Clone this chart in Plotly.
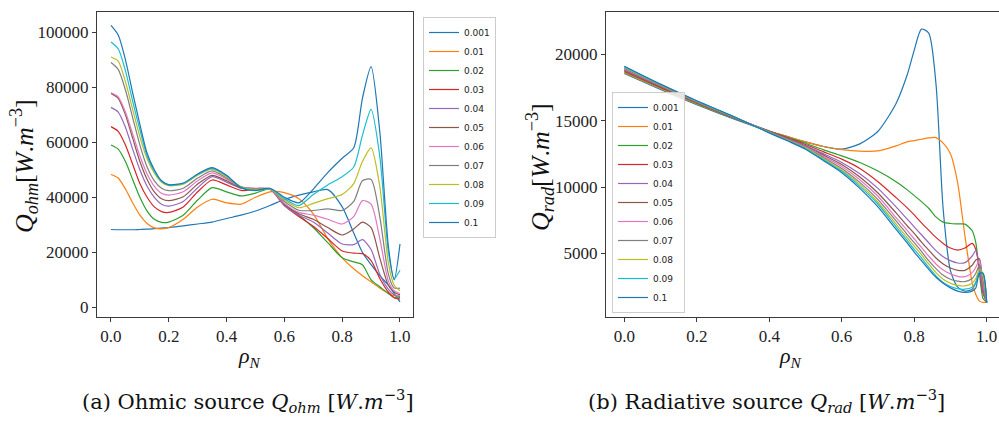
import plotly.graph_objects as go

# ---------------- data ----------------
labels = ["0.001", "0.01", "0.02", "0.03", "0.04", "0.05", "0.06", "0.07", "0.08", "0.09", "0.1"]
colors = ["#1f77b4", "#ff7f0e", "#2ca02c", "#d62728", "#9467bd", "#8c564b",
          "#e377c2", "#7f7f7f", "#bcbd22", "#17becf", "#1f77b4"]

rho_ohm = [0, 0.025, 0.05, 0.075, 0.1, 0.125, 0.15, 0.175, 0.2, 0.25, 0.3, 0.35, 0.4, 0.45,
           0.5, 0.55, 0.6, 0.65, 0.7, 0.75, 0.8, 0.84, 0.87, 0.9, 0.93, 0.96, 0.98, 1.0]

q_ohm_0001 = [28300, 28200, 28200, 28200, 28300, 28400, 28600, 28800, 29000, 29600, 30300, 31000, 32300, 33500,
              35000, 37000, 39200, 40800, 42000, 42800, 36500, 27000, 20000, 15500, 11500, 8000, 5000, 2000]
q_ohm_001 = [48300, 47000, 43000, 38000, 33500, 30500, 28900, 28500, 29000, 32000, 36500, 39300, 38000, 37500,
             40000, 42000, 41700, 39500, 34000, 25000, 18000, 14000, 11500, 9300, 7000, 5000, 4200, 4000]
q_ohm_002 = [59000, 57500, 53000, 46500, 40000, 35000, 32000, 30900, 31000, 33500, 39000, 43500, 42000, 40500,
             41500, 43000, 37500, 33500, 29000, 23500, 18000, 16500, 15500, 10000, 7500, 5000, 3500, 3500]
q_ohm_003 = [65700, 64000, 59000, 52000, 45000, 40000, 36500, 34800, 34500, 36500, 42000, 46300, 44500, 42500,
             42800, 43000, 37000, 33000, 29500, 25000, 20500, 19700, 19500, 17000, 10500, 5500, 3500, 3000]
q_ohm_004 = [72700, 71000, 65500, 57500, 50000, 44000, 40000, 37500, 36800, 38500, 43500, 47500, 45500, 43300,
             43200, 43000, 37000, 33500, 31000, 27000, 23000, 22800, 24600, 21000, 12000, 6500, 4500, 4000]
q_ohm_005 = [77800, 76000, 70000, 61500, 53000, 46500, 42000, 39500, 38800, 40200, 44800, 48000, 46000, 43500,
             43200, 43000, 37500, 34000, 32000, 29000, 26300, 28500, 31000, 29000, 18000, 8000, 5500, 4500]
q_ohm_006 = [78000, 76500, 71000, 63000, 55000, 48500, 44000, 41500, 40800, 42000, 46000, 48900, 46600, 43800,
             43300, 43000, 37800, 34500, 33500, 32000, 30300, 33000, 38800, 37500, 25000, 9500, 6000, 5000]
q_ohm_007 = [89000, 86500, 79000, 69000, 59000, 51000, 46000, 43300, 42400, 43300, 47000, 49600, 47000, 43800,
             43000, 43000, 38500, 35300, 35200, 35800, 35200, 38500, 46000, 46500, 33000, 12000, 7000, 7000]
q_ohm_008 = [91000, 89500, 82000, 72000, 62000, 54000, 48800, 45500, 44200, 44800, 48000, 50200, 47500, 43800,
             42800, 43000, 39000, 36200, 37800, 39500, 41000, 45000, 53000, 58000, 44000, 16000, 8000, 6000]
q_ohm_009 = [96500, 94000, 86000, 75000, 64500, 55000, 49500, 45800, 44400, 45000, 48300, 50500, 47800, 43600,
             42400, 43100, 39500, 37000, 41000, 44500, 47500, 51000, 62500, 72000, 55000, 20000, 10500, 13500]
q_ohm_010 = [102500, 99000, 90000, 78000, 66500, 56000, 50000, 46000, 44600, 45200, 48500, 50800, 48000, 43500,
             42500, 43300, 40000, 38000, 43000, 49000, 54200, 58000, 76000, 87500, 64000, 22000, 10000, 23000]

rho_rad = [0, 0.1, 0.2, 0.3, 0.4, 0.45, 0.5, 0.55, 0.6, 0.65, 0.7, 0.75, 0.78, 0.8, 0.82, 0.84,
           0.86, 0.88, 0.9, 0.92, 0.94, 0.96, 0.97, 0.98, 0.99, 1.0]

q_rad_0001 = [18550, 17350, 16200, 15150, 14200, 13800, 13400, 13050, 12850, 13250, 14200, 16300, 18400,
              20300, 21900, 21600, 17800, 8300, 3700, 2450, 2150, 2300, 2800, 3500, 3400, 1300]
q_rad_001 = [18620, 17420, 16250, 15200, 14220, 13800, 13400, 13050, 12820, 12700, 12720, 13100, 13400,
             13500, 13600, 13700, 13720, 13300, 12500, 10300, 6300, 2800, 1900, 1400, 1300, 1300]
q_rad_002 = [18680, 17480, 16300, 15220, 14220, 13750, 13300, 12800, 12350, 11850, 11200, 10400, 9800,
             9350, 8900, 8400, 7750, 7350, 7250, 7220, 7200, 6700, 5800, 3500, 1600, 1300]
q_rad_003 = [18750, 17530, 16350, 15250, 14200, 13700, 13200, 12650, 12100, 11400, 10400, 9200, 8450,
             7900, 7300, 6750, 6200, 5750, 5400, 5250, 5400, 5750, 5300, 3800, 2000, 1300]
q_rad_004 = [18800, 17570, 16380, 15270, 14180, 13650, 13130, 12500, 11850, 11000, 9900, 8500, 7600,
             7000, 6400, 5800, 5200, 4750, 4450, 4270, 4300, 4800, 5200, 4000, 2200, 1300]
q_rad_005 = [18850, 17600, 16400, 15280, 14160, 13600, 13070, 12400, 11700, 10750, 9550, 8050, 7100,
             6500, 5850, 5250, 4650, 4200, 3900, 3720, 3720, 4100, 4500, 4600, 2500, 1300]
q_rad_006 = [18900, 17630, 16420, 15290, 14150, 13570, 13030, 12300, 11550, 10550, 9300, 7700, 6750,
             6100, 5450, 4800, 4200, 3750, 3450, 3270, 3250, 3550, 3950, 4450, 2700, 1300]
q_rad_007 = [18950, 17660, 16440, 15300, 14130, 13550, 13000, 12200, 11400, 10350, 9050, 7450, 6450,
             5800, 5150, 4450, 3850, 3350, 3050, 2900, 2870, 3100, 3500, 4100, 3000, 1300]
q_rad_008 = [19000, 17690, 16460, 15310, 14120, 13530, 12950, 12120, 11280, 10200, 8850, 7200, 6200,
             5550, 4900, 4200, 3550, 3050, 2750, 2580, 2550, 2750, 3100, 3800, 3300, 1300]
q_rad_009 = [19050, 17720, 16480, 15320, 14100, 13500, 12900, 12050, 11180, 10050, 8700, 7000, 6000,
             5300, 4650, 3950, 3300, 2800, 2500, 2330, 2300, 2450, 2800, 3600, 3500, 1300]
q_rad_010 = [19100, 17750, 16500, 15330, 14080, 13480, 12850, 11980, 11080, 9900, 8500, 6800, 5800,
             5100, 4450, 3800, 3200, 2750, 2400, 2150, 2050, 2150, 2400, 3500, 3500, 1300]

ohm_ticks = [0, 20000, 40000, 60000, 80000, 100000]
rad_ticks = [5000, 10000, 15000, 20000]
x_ticks = [0.0, 0.2, 0.4, 0.6, 0.8, 1.0]

ohm_series = [q_ohm_0001, q_ohm_001, q_ohm_002, q_ohm_003, q_ohm_004, q_ohm_005,
              q_ohm_006, q_ohm_007, q_ohm_008, q_ohm_009, q_ohm_010]
rad_series = [q_rad_0001, q_rad_001, q_rad_002, q_rad_003, q_rad_004, q_rad_005,
              q_rad_006, q_rad_007, q_rad_008, q_rad_009, q_rad_010]

# ---------------- figure ----------------
W, H = 999, 421
fig = go.Figure()

for lab, col, ys in zip(labels, colors, ohm_series):
    fig.add_trace(go.Scatter(x=rho_ohm, y=ys, name=lab, mode="lines",
                             line=dict(color=col, width=1.2, shape="spline", smoothing=0.7),
                             xaxis="x", yaxis="y", legend="legend"))
for lab, col, ys in zip(labels, colors, rad_series):
    fig.add_trace(go.Scatter(x=rho_rad, y=ys, name=lab, mode="lines",
                             line=dict(color=col, width=1.2, shape="spline", smoothing=0.7),
                             xaxis="x2", yaxis="y2", legend="legend2"))

serif = "Liberation Serif"
axis_common = dict(showgrid=False, zeroline=False, showline=True, mirror=True,
                   linecolor="#3a3a3a", linewidth=1, ticks="outside", ticklen=4,
                   tickcolor="#3a3a3a", tickfont=dict(family=serif, size=17, color="#222"))

y_top = 1 - 12 / H
y_bot = 1 - 317 / H

fig.update_layout(
    width=W, height=H,
    margin=dict(l=0, r=0, t=0, b=0),
    paper_bgcolor="white", plot_bgcolor="white",
    hovermode=False,
    xaxis=dict(domain=[97 / W, 413 / W], range=[-0.0484, 1.045], tickvals=x_ticks,
               ticktext=[f"{v:.1f}" for v in x_ticks], anchor="y", **axis_common),
    yaxis=dict(domain=[y_bot, y_top], range=[-3527, 107382], tickvals=ohm_ticks,
               ticktext=[str(v) for v in ohm_ticks], anchor="x", **axis_common),
    xaxis2=dict(domain=[606 / W, 1.0], range=[-0.0505, 1.034], tickvals=x_ticks,
                ticktext=[f"{v:.1f}" for v in x_ticks], anchor="y2", **axis_common),
    yaxis2=dict(domain=[y_bot, y_top], range=[203, 23188], tickvals=rad_ticks,
                ticktext=[str(v) for v in rad_ticks], anchor="x2", **axis_common),
    legend=dict(x=423 / W, y=1 - 17 / H, xanchor="left", yanchor="top",
                bgcolor="rgba(255,255,255,0.8)", bordercolor="#cccccc", borderwidth=1,
                font=dict(family="DejaVu Sans", size=9, color="#222"), tracegroupgap=0),
    legend2=dict(x=612 / W, y=1 - 313 / H, xanchor="left", yanchor="bottom",
                 bgcolor="rgba(255,255,255,0.8)", bordercolor="#cccccc", borderwidth=1,
                 font=dict(family="DejaVu Sans", size=9, color="#222"), tracegroupgap=0),
)


def add_text(txt, px, py, size, angle=0, family=serif):
    fig.add_annotation(text=txt, x=px / W, y=1 - py / H, xref="paper", yref="paper",
                       xanchor="center", yanchor="middle", showarrow=False,
                       textangle=angle, font=dict(size=size, family=family, color="#111"))


add_text("<i>Q</i><sub><i>ohm</i></sub>[<i>W</i>.<i>m</i><sup>−3</sup>]", 24, 166, 26, -90)
add_text("<i>Q</i><sub><i>rad</i></sub>[<i>W</i>.<i>m</i><sup>−3</sup>]", 540, 167, 26, -90)
add_text("<i>ρ</i><sub><i>N</i></sub>", 249, 357, 22)
add_text("<i>ρ</i><sub><i>N</i></sub>", 790, 357, 22)
add_text("(a) Ohmic source <i>Q</i><sub><i>ohm</i></sub> [<i>W</i>.<i>m</i><sup>−3</sup>]",
         248, 401, 21, family="DejaVu Serif")
add_text("(b) Radiative source <i>Q</i><sub><i>rad</i></sub> [<i>W</i>.<i>m</i><sup>−3</sup>]",
         766, 401, 21, family="DejaVu Serif")

fig.write_html("out.html", config={"displayModeBar": False},
               post_script="document.body.style.margin='0';document.body.style.padding='0';")
